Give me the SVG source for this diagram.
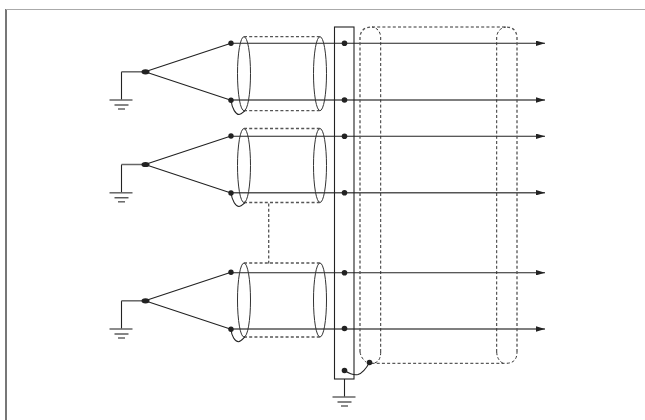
<svg xmlns="http://www.w3.org/2000/svg" width="645" height="420" viewBox="0 0 645 420">
<style>
.w{fill:none;stroke:#222;stroke-width:1.1}
.g{fill:none;stroke:#555;stroke-width:1.5}
.e{fill:none;stroke:#333;stroke-width:1}
.d{fill:none;stroke:#555;stroke-width:1.3;stroke-dasharray:3 2.2}
.t{fill:none;stroke:#333;stroke-width:1;stroke-dasharray:3 2.2}
.b{fill:none;stroke:#666;stroke-width:1.500}
.p{fill:#222}
</style>
<defs>
<marker id="a" viewBox="0 0 10 6" refX="10" refY="3" markerWidth="9" markerHeight="5.500" markerUnits="userSpaceOnUse" orient="auto"><path d="M0 0L10 3L0 6z" fill="#222"/></marker>
<g id="gnd"><path class="b" d="M-12 0H11"/><path class="w" d="M-7 5H7"/><path class="b" d="M-3.500 9H3.500"/></g>
<g id="pair">
<path class="w" d="M121.500 0V28"/><path class="b" d="M121.500 0H145"/>
<path class="w" d="M145 0L231 -28.500M145 0L231 28.500"/>
<ellipse class="p" cx="145.500" cy="0" rx="4" ry="2.600"/>
<circle class="p" cx="231" cy="-28.500" r="2.700"/><circle class="p" cx="231" cy="28.500" r="2.700"/>
</g>
<g id="shell">
<ellipse class="e" cx="244" cy="0" rx="6.500" ry="37"/><ellipse class="e" cx="320" cy="0" rx="6.500" ry="37"/>
<path class="d" d="M244 -37H320M244 37H320"/>
</g>
</defs>
<g id="frame"><path d="M6 9V420" fill="none" stroke="#777" stroke-width="2"/><path d="M6 9.500H645" fill="none" stroke="#aaa" stroke-width="1"/></g>
<g id="connectors">
<path class="w" d="M231 43.300H545" marker-end="url(#a)"/>
<path class="g" d="M231 100H545" marker-end="url(#a)"/>
<path class="w" d="M231 136.300H545" marker-end="url(#a)"/>
<path class="g" d="M231 192.700H545" marker-end="url(#a)"/>
<path class="w" d="M231 272.700H545" marker-end="url(#a)"/>
<path class="g" d="M231 329H545" marker-end="url(#a)"/>
<path class="d" d="M268.700 203.500V263.500"/>
</g>
<g id="cable1"><use href="#pair" y="71.800"/><use href="#shell" y="73.700"/><use href="#gnd" x="121.500" y="100"/>
<path class="w" d="M231 100C232 109 236 114.500 239 114.500C242 114 243 112 245 110.700"/></g>
<g id="cable2"><use href="#pair" y="164.500"/><use href="#shell" y="165.500"/><use href="#gnd" x="121.500" y="192.800"/>
<path class="w" d="M231 192.700C232 201 236 206.500 239 206.500C242 206 243 204 245 202.700"/></g>
<g id="cable3"><use href="#pair" y="300.800"/><use href="#shell" y="300"/><use href="#gnd" x="121.500" y="329"/>
<path class="w" d="M231 329.300C231.500 336 235 341.700 238.500 341.700C241 341.500 243 338.500 245 336.700"/></g>
<g id="terminal">
<rect x="334.500" y="27" width="19.500" height="352" fill="none" stroke="#222" stroke-width="1.100"/>
<circle class="p" cx="344.500" cy="43.300" r="2.800"/><circle class="p" cx="344.500" cy="100" r="2.800"/>
<circle class="p" cx="344.500" cy="136.300" r="2.800"/><circle class="p" cx="344.500" cy="192.700" r="2.800"/>
<circle class="p" cx="344.500" cy="272.700" r="2.800"/><circle class="p" cx="344.500" cy="328.500" r="2.800"/>
<circle class="p" cx="344.500" cy="370.500" r="2.800"/>
<path class="w" d="M344.500 379V397"/><use href="#gnd" x="344.500" y="397"/>
</g>
<g id="shield">
<path class="d" d="M360 352V37Q361 27 372 27M517 352V37Q516 27 506 27"/>
<path class="t" d="M372 27H506M380.700 352V37Q380 28.500 372 27M496.700 352V37Q497.500 28.500 506 27"/>
<path class="t" d="M380.700 352Q380.700 363 372 363.300H506Q517 363.300 517 352M496.700 352Q497 360 503 363.300M360 352Q361 358 366 362"/>
<circle class="p" cx="369.500" cy="362.500" r="2.800"/>
<path class="w" d="M344.500 370.500C350 374 354 375.500 358 374.500C363 373 367 367 369.500 362.500"/>
</g>
</svg>
